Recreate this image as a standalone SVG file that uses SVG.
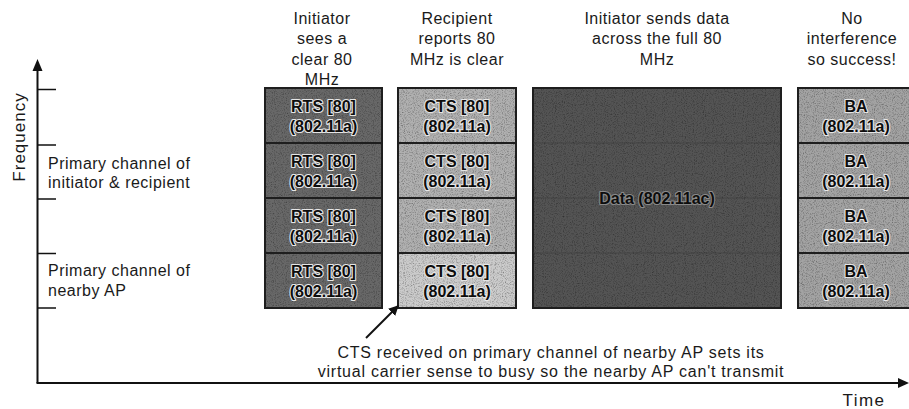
<svg xmlns="http://www.w3.org/2000/svg" width="909" height="409" viewBox="0 0 909 409">
<style>
  .lbl { font-family: "Liberation Sans", Arial, sans-serif; font-size: 16px; fill: #1a1a1a; letter-spacing: 0.5px; }
  .hd { text-anchor: middle; }
  .note { letter-spacing: 0.75px; }
  .blk { font-family: "Liberation Sans", Arial, sans-serif; font-size: 16px; font-weight: bold; text-anchor: middle; fill: #0d0d0d; stroke: #e6e6e6; stroke-width: 2.2px; paint-order: stroke; stroke-linejoin: round; }
  .box { stroke: #1e1e1e; stroke-width: 2; }
  .rts { fill: #686868; }
  .cts { fill: #b0b0b0; }
  .cts4 { fill: #cbcbcb; }
  .data { fill: #545454; }
  .ba { fill: #a3a3a3; }
  .axis { stroke: #111; stroke-width: 2; fill: none; }
  .conn { stroke: #111; stroke-width: 2; fill: none; }
</style>
<defs>
  <filter id="grain" x="0" y="0" width="100%" height="100%" color-interpolation-filters="sRGB">
    <feTurbulence type="fractalNoise" baseFrequency="0.9" numOctaves="2" seed="7" result="n"/>
    <feColorMatrix in="n" type="saturate" values="0" result="g"/>
    <feComponentTransfer in="g" result="g2">
      <feFuncR type="linear" slope="1.1" intercept="0.42"/>
      <feFuncG type="linear" slope="1.1" intercept="0.42"/>
      <feFuncB type="linear" slope="1.1" intercept="0.42"/>
      <feFuncA type="linear" slope="0" intercept="1"/>
    </feComponentTransfer>
    <feBlend in="SourceGraphic" in2="g2" mode="multiply" result="b"/>
    <feComposite in="b" in2="SourceGraphic" operator="in"/>
  </filter>
  <marker id="ah" viewBox="0 0 10 10" refX="9" refY="5" markerWidth="10" markerHeight="10" markerUnits="userSpaceOnUse" orient="auto">
    <path d="M0,0 L10,5 L0,10 z" fill="#111"/>
  </marker>
</defs>

<g id="axes">
  <line class="axis" x1="37.5" y1="383" x2="37.5" y2="68"/>
  <path d="M37.5,59 L42.5,71 L32.5,71 z" fill="#111"/>
  <line class="axis" x1="36.5" y1="383" x2="900" y2="383"/>
  <path d="M909,383 L898,378 L898,388 z" fill="#111"/>
  <g stroke="#111" stroke-width="1.5">
    <line x1="37" y1="89.5" x2="56" y2="89.5"/>
    <line x1="37" y1="145" x2="56" y2="145"/>
    <line x1="37" y1="199" x2="56" y2="199"/>
    <line x1="37" y1="253.5" x2="56" y2="253.5"/>
    <line x1="37" y1="308" x2="56" y2="308"/>
  </g>
  <text class="lbl" transform="translate(25,137) rotate(-90)" text-anchor="middle" style="font-size:17px;letter-spacing:1px">Frequency</text>
  <text class="lbl" x="864" y="406" text-anchor="middle" style="font-size:17px;letter-spacing:1.5px">Time</text>
</g>

<g id="label-primary-initiator">
  <text class="lbl" x="48" y="169">Primary channel of</text>
  <text class="lbl" x="48" y="188">initiator &amp; recipient</text>
</g>
<g id="label-primary-nearby">
  <text class="lbl" x="48" y="276">Primary channel of</text>
  <text class="lbl" x="48" y="296">nearby AP</text>
</g>

<g id="headings">
  <text class="lbl hd" x="322" y="24">Initiator</text>
  <text class="lbl hd" x="322" y="44">sees a</text>
  <text class="lbl hd" x="322" y="65">clear 80</text>
  <text class="lbl hd" x="322" y="85">MHz</text>
  <text class="lbl hd" x="457" y="24">Recipient</text>
  <text class="lbl hd" x="457" y="44">reports 80</text>
  <text class="lbl hd" x="457" y="65">MHz is clear</text>
  <text class="lbl hd" x="657" y="24">Initiator sends data</text>
  <text class="lbl hd" x="657" y="44">across the full 80</text>
  <text class="lbl hd" x="657" y="65">MHz</text>
  <text class="lbl hd" x="852" y="24">No</text>
  <text class="lbl hd" x="852" y="44">interference</text>
  <text class="lbl hd" x="852" y="65">so success!</text>
</g>

<g id="fills" filter="url(#grain)">
  <rect class="rts" x="265" y="88" width="117" height="220"/>
  <rect class="cts" x="398" y="88" width="118" height="165"/>
  <rect class="cts4" x="398" y="253" width="118" height="55"/>
  <rect class="data" x="533" y="88" width="248" height="220"/>
  <rect class="ba" x="798" y="88" width="120" height="220"/>
</g>

<g id="rts-1"><rect class="box" x="265" y="88" width="117" height="55" fill="none"/><text class="blk" x="323.5" y="112">RTS [80]</text><text class="blk" x="323.5" y="132">(802.11a)</text></g>
<g id="rts-2"><rect class="box" x="265" y="143" width="117" height="55" fill="none"/><text class="blk" x="323.5" y="167">RTS [80]</text><text class="blk" x="323.5" y="187">(802.11a)</text></g>
<g id="rts-3"><rect class="box" x="265" y="198" width="117" height="55" fill="none"/><text class="blk" x="323.5" y="222">RTS [80]</text><text class="blk" x="323.5" y="242">(802.11a)</text></g>
<g id="rts-4"><rect class="box" x="265" y="253" width="117" height="55" fill="none"/><text class="blk" x="323.5" y="277">RTS [80]</text><text class="blk" x="323.5" y="297">(802.11a)</text></g>

<g id="cts-1"><rect class="box" x="398" y="88" width="118" height="55" fill="none"/><text class="blk" x="457" y="112">CTS [80]</text><text class="blk" x="457" y="132">(802.11a)</text></g>
<g id="cts-2"><rect class="box" x="398" y="143" width="118" height="55" fill="none"/><text class="blk" x="457" y="167">CTS [80]</text><text class="blk" x="457" y="187">(802.11a)</text></g>
<g id="cts-3"><rect class="box" x="398" y="198" width="118" height="55" fill="none"/><text class="blk" x="457" y="222">CTS [80]</text><text class="blk" x="457" y="242">(802.11a)</text></g>
<g id="cts-4"><rect class="box" x="398" y="253" width="118" height="55" fill="none"/><text class="blk" x="457" y="277">CTS [80]</text><text class="blk" x="457" y="297">(802.11a)</text></g>

<g id="data">
  <rect class="box" x="533" y="88" width="248" height="220" fill="none"/>
  <g stroke="#3a3a3a" stroke-width="1" opacity="0.6">
    <line x1="533" y1="143" x2="781" y2="143"/>
    <line x1="533" y1="198" x2="781" y2="198"/>
    <line x1="533" y1="253" x2="781" y2="253"/>
  </g>
  <text class="blk" x="657" y="204" style="stroke:#8a8a8a">Data (802.11ac)</text>
</g>

<g id="ba-1"><rect class="box" x="798" y="88" width="120" height="55" fill="none"/><text class="blk" x="856" y="112">BA</text><text class="blk" x="856" y="132">(802.11a)</text></g>
<g id="ba-2"><rect class="box" x="798" y="143" width="120" height="55" fill="none"/><text class="blk" x="856" y="167">BA</text><text class="blk" x="856" y="187">(802.11a)</text></g>
<g id="ba-3"><rect class="box" x="798" y="198" width="120" height="55" fill="none"/><text class="blk" x="856" y="222">BA</text><text class="blk" x="856" y="242">(802.11a)</text></g>
<g id="ba-4"><rect class="box" x="798" y="253" width="120" height="55" fill="none"/><text class="blk" x="856" y="277">BA</text><text class="blk" x="856" y="297">(802.11a)</text></g>

<g id="note">
  <text class="lbl note" x="551" y="358" text-anchor="middle">CTS received on primary channel of nearby AP sets its</text>
  <text class="lbl note" x="551" y="377" text-anchor="middle">virtual carrier sense to busy so the nearby AP  can't transmit</text>
</g>

<g id="connectors">
  <line class="conn" x1="366" y1="338" x2="398" y2="306" marker-end="url(#ah)"/>
</g>
</svg>
